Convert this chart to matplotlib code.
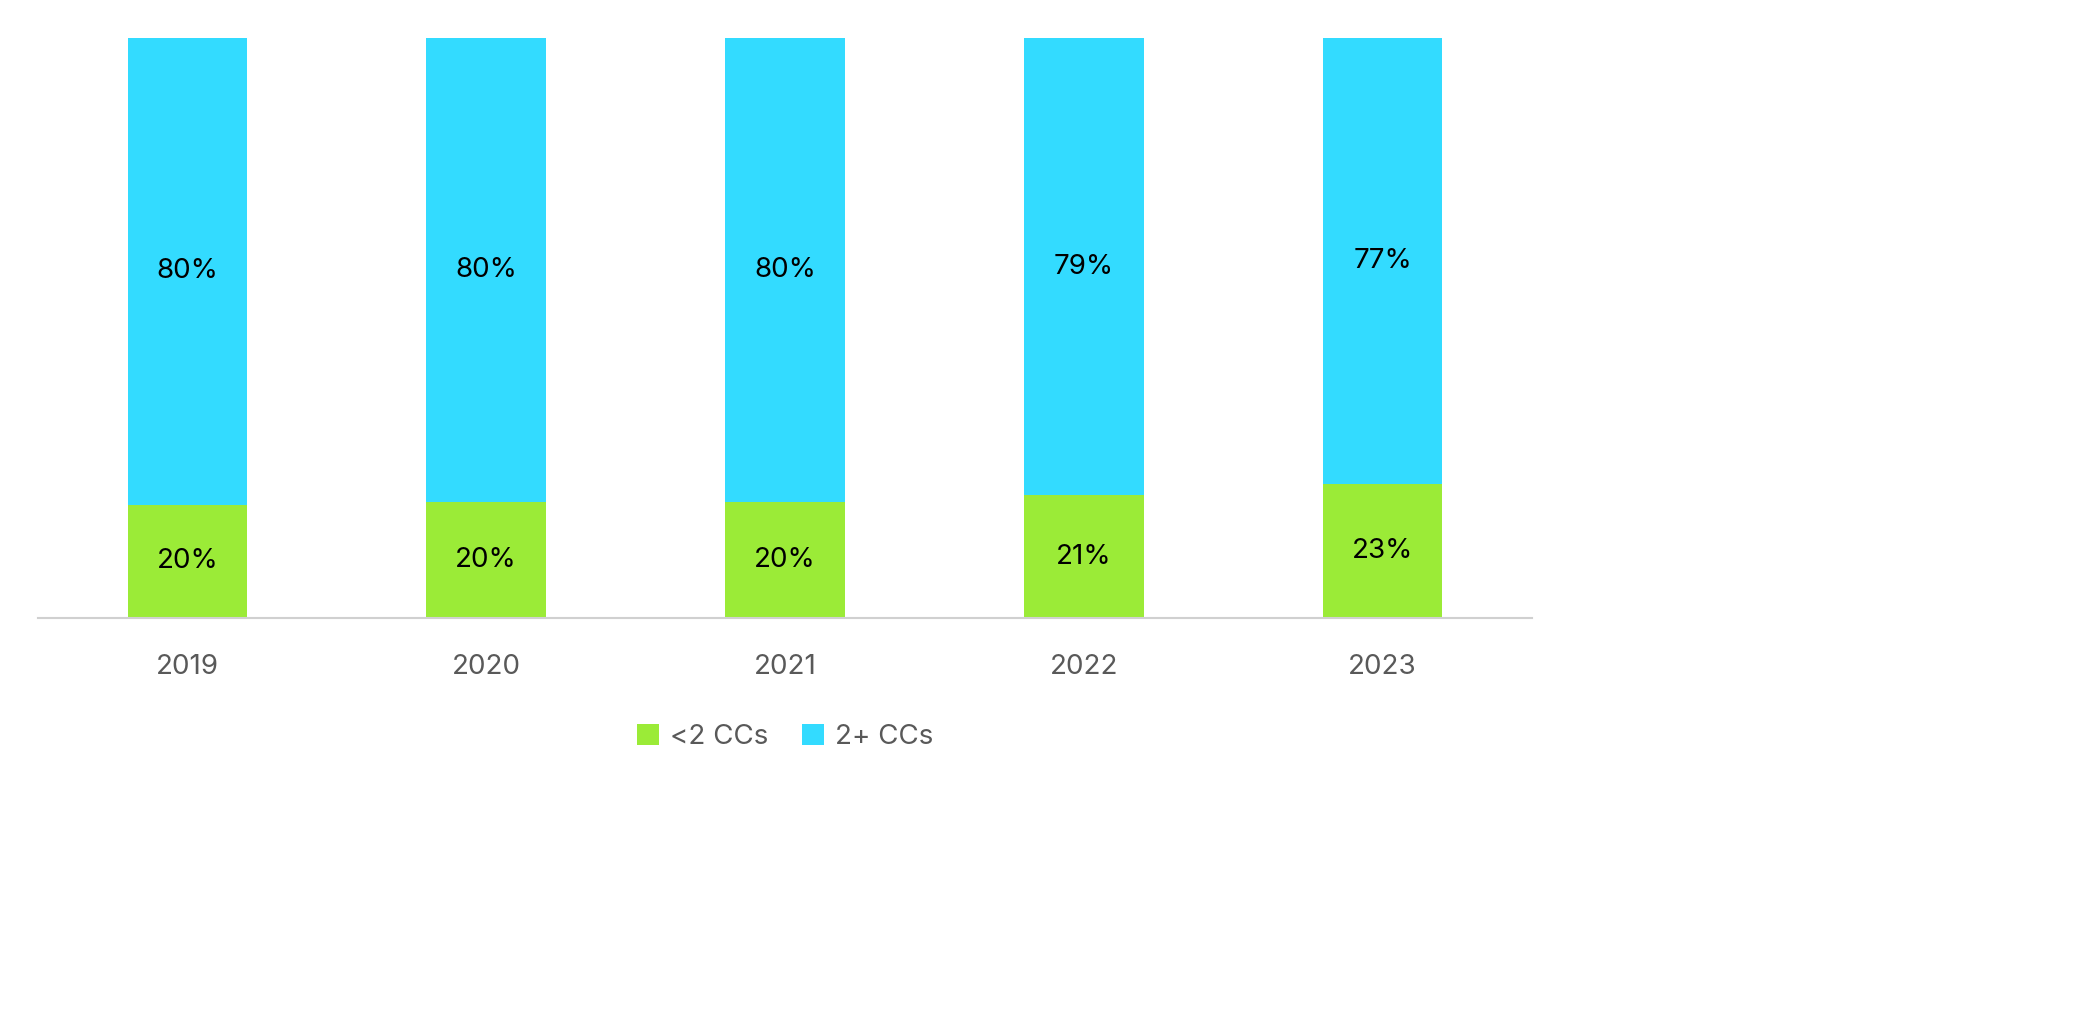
import matplotlib.pyplot as plt

plt.rcParams['font.family'] = ['Inter', 'DejaVu Sans']

years = ['2019', '2020', '2021', '2022', '2023']
low_cc = [19.5, 20.0, 20.0, 21.2, 23.1]
high_cc = [80.5, 80.0, 80.0, 78.8, 76.9]
green = '#9BEB37'
cyan = '#33DBFF'

fig = plt.figure(figsize=(20.79, 10.31), dpi=100)
ax = fig.add_axes([38 / 2079, 1 - 618 / 1031, (1532 - 38) / 2079, 580 / 1031])

x = range(len(years))
ax.bar(x, low_cc, width=0.4, color=green, label='<2 CCs')
ax.bar(x, high_cc, width=0.4, bottom=low_cc, color=cyan, label='2+ CCs')

for i in x:
    ax.text(i, low_cc[i] / 2, f"{round(low_cc[i])}%", ha='center', va='center', fontsize=20)
    ax.text(i, low_cc[i] + high_cc[i] / 2, f"{round(high_cc[i])}%", ha='center', va='center', fontsize=20)

ax.set_xlim(-0.5, 4.5)
ax.set_ylim(0, 100)
ax.set_xticks(list(x))
ax.set_xticklabels(years, fontsize=20, color='#595959')
ax.tick_params(axis='x', length=0, pad=26)
ax.set_yticks([])
for s in ['top', 'right', 'left']:
    ax.spines[s].set_visible(False)
ax.spines['bottom'].set_color('#D0D0D0')
ax.spines['bottom'].set_linewidth(1.5)

ax.legend(loc='upper center', bbox_to_anchor=(0.5, -0.14), ncol=2, frameon=False,
          fontsize=20, labelcolor='#595959', handlelength=0.8, handleheight=0.8,
          columnspacing=1.2, handletextpad=0.4)

fig.savefig('out.png')
